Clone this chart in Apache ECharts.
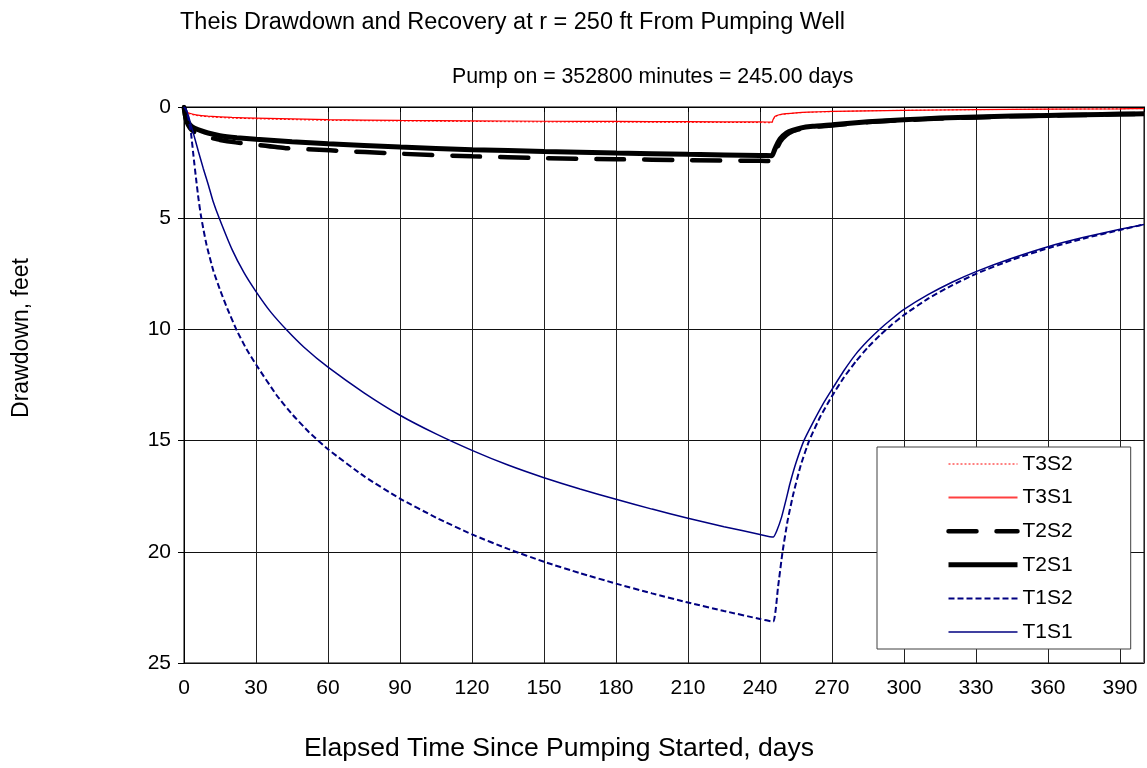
<!DOCTYPE html>
<html>
<head>
    <meta charset="utf-8">
    <title>Theis Drawdown and Recovery</title>
    <script src="https://cdn.jsdelivr.net/npm/echarts@6/dist/echarts.min.js"></script>
    <style>
        html, body { margin: 0; padding: 0; background: #ffffff; }
        #chart { width: 1147px; height: 768px; }
    </style>
</head>
<body>
<div id="chart"></div>
<script>
    // days since pumping started / drawdown in feet
    var t3s2Days = [0, 0.5, 1, 2, 5, 10, 20, 30, 60, 90, 120, 150, 180, 210, 240, 245, 245.5, 246.3, 248, 251, 255, 260, 270, 285, 300, 330, 360, 390, 400];
    var t3s2Ft = [0, 0.14, 0.23, 0.3, 0.38, 0.44, 0.5, 0.53, 0.6, 0.63, 0.65, 0.67, 0.68, 0.69, 0.7, 0.71, 0.57, 0.44, 0.36, 0.31, 0.27, 0.24, 0.21, 0.17, 0.15, 0.12, 0.1, 0.08, 0.07];

    var t3s1Days = [0, 0.5, 1, 2, 5, 10, 20, 30, 60, 90, 120, 150, 180, 210, 240, 245, 245.5, 246.3, 248, 251, 255, 260, 270, 285, 300, 330, 360, 390, 400];
    var t3s1Ft = [0, 0.12, 0.2, 0.27, 0.35, 0.41, 0.47, 0.5, 0.57, 0.6, 0.62, 0.64, 0.65, 0.66, 0.67, 0.68, 0.55, 0.42, 0.35, 0.3, 0.26, 0.23, 0.2, 0.17, 0.15, 0.12, 0.1, 0.08, 0.07];

    var t2s2Days = [0, 0.5, 1, 2.5, 4, 6.25, 10, 15, 21.5, 30, 42.4, 60.8, 90, 120, 150, 180, 210, 240, 245, 246, 247, 248.5, 251, 253.5, 256.7, 262, 270, 285, 300, 315, 330, 345, 360, 375, 390, 400];
    var t2s2Ft = [0, 0.4, 0.65, 0.95, 1.1, 1.23, 1.36, 1.48, 1.59, 1.7, 1.85, 1.95, 2.1, 2.22, 2.3, 2.35, 2.39, 2.42, 2.43, 2.15, 1.88, 1.55, 1.26, 1.1, 1.0, 0.9, 0.83, 0.68, 0.59, 0.52, 0.47, 0.42, 0.39, 0.36, 0.33, 0.31];

    var t2s1Days = [0, 0.5, 1, 2.5, 4, 6.7, 10, 15, 22, 30, 45, 60, 90, 120, 150, 180, 210, 240, 245, 246, 247, 248.5, 251, 253.5, 256.7, 262, 270, 285, 300, 315, 330, 345, 360, 375, 390, 400];
    var t2s1Ft = [0, 0.35, 0.55, 0.8, 0.93, 1.05, 1.17, 1.29, 1.38, 1.45, 1.56, 1.65, 1.8, 1.92, 2.0, 2.07, 2.13, 2.18, 2.19, 1.95, 1.7, 1.42, 1.17, 1.05, 0.95, 0.87, 0.8, 0.66, 0.57, 0.5, 0.45, 0.41, 0.38, 0.35, 0.32, 0.3];

    var t1s2Days = [0, 1, 2, 3, 4, 5, 6, 7, 8, 9.4, 12.2, 15, 18, 22, 26, 30, 38.6, 45, 52, 60, 75, 90, 105, 120, 135, 150, 165, 180, 195, 210, 225, 240, 245.5, 247.5, 249.4, 251.5, 253.9, 257, 260.5, 265, 270, 275, 280, 285, 290, 295, 300, 310, 320, 330, 345, 360, 375, 390, 400];
    var t1s2Ft = [0, 0.15, 0.6, 1.25, 2.25, 3.2, 4.1, 4.85, 5.45, 6.2, 7.35, 8.22, 9.05, 10.05, 10.88, 11.58, 12.96, 13.81, 14.61, 15.39, 16.6, 17.61, 18.46, 19.22, 19.87, 20.45, 20.96, 21.43, 21.87, 22.28, 22.66, 23.02, 23.14, 21.6, 20.0, 18.6, 17.39, 16.1, 15.0, 13.95, 13.0, 12.15, 11.43, 10.8, 10.26, 9.78, 9.35, 8.62, 8.02, 7.5, 6.87, 6.35, 5.91, 5.53, 5.28];

    var t1s1Days = [0, 1, 2, 3, 4, 6, 8, 10, 12, 14.7, 20, 25, 30, 36, 43, 50, 60, 75, 90, 105, 120, 135, 150, 165, 180, 195, 210, 225, 240, 245.5, 247, 249, 251, 252.5, 255, 258.3, 262, 266, 270, 275, 280, 285, 290, 295, 300, 310, 320, 330, 345, 360, 375, 390, 400];
    var t1s1Ft = [0, 0.15, 0.45, 0.85, 1.22, 2.0, 2.75, 3.45, 4.2, 5.0, 6.4, 7.45, 8.3, 9.2, 10.05, 10.8, 11.7, 12.85, 13.86, 14.7, 15.44, 16.1, 16.67, 17.18, 17.64, 18.08, 18.49, 18.87, 19.22, 19.34, 19.05, 18.44, 17.6, 16.93, 16.0, 15.0, 14.2, 13.4, 12.7, 11.85, 11.1, 10.5, 9.98, 9.52, 9.1, 8.44, 7.88, 7.4, 6.8, 6.28, 5.86, 5.5, 5.28];

    var legendNames = ['T3S2', 'T3S1', 'T2S2', 'T2S1', 'T1S2', 'T1S1'];

    var fontFam = '"Liberation Sans", Arial, sans-serif';

    function pairs(days, ft) {
        return days.map(function (d, i) { return [d, ft[i]]; });
    }

    var chart = echarts.init(document.getElementById('chart'));

    var option = {
        backgroundColor: '#ffffff',
        animation: false,
        title: [
            {
                text: 'Theis Drawdown and Recovery at r = 250 ft From Pumping Well',
                left: 175, top: 6,
                textStyle: {fontFamily: fontFam, fontSize: 23.5, fontWeight: 'normal', color: '#000'}
            },
            {
                text: 'Pump on = 352800 minutes = 245.00 days',
                left: 447, top: 62,
                textStyle: {fontFamily: fontFam, fontSize: 21.3, fontWeight: 'normal', color: '#000'}
            }
        ],
        grid: {
            left: 184, top: 107, right: 3, bottom: 105,
            show: true, borderColor: '#808080', borderWidth: 2,
            outerBoundsMode: 'none'
        },
        legend: {
            orient: 'vertical',
            left: 877, top: 447,
            padding: [6, 58, 6, 69],
            itemWidth: 69, itemHeight: 14, itemGap: 11.6,
            itemStyle: {opacity: 0},
            lineStyle: {width: 'inherit'},
            backgroundColor: '#ffffff',
            borderColor: '#404040', borderWidth: 1,
            textStyle: {fontFamily: fontFam, fontSize: 21, color: '#000', lineHeight: 22},
            data: legendNames.map(function (n) {
                // the thin red line reads better a little wider in the key
                return n === 'T3S1' ? {name: n, lineStyle: {width: 2, color: '#ff4040'}} : n;
            })
        },
        xAxis: {
            type: 'value',
            min: 0, max: 400, interval: 30,
            axisLine: {show: true, lineStyle: {color: '#000', width: 1}},
            axisTick: {show: true, length: 5, lineStyle: {color: '#000'}},
            axisLabel: {
                margin: 15, color: '#000', fontFamily: fontFam, fontSize: 21,
                formatter: function (v) { return v > 390 ? '' : String(v); }
            },
            splitLine: {show: true, lineStyle: {color: '#222', width: 1}}
        },
        yAxis: {
            type: 'value',
            inverse: true,
            min: 0, max: 25, interval: 5,
            axisLine: {show: true, lineStyle: {color: '#000', width: 1}},
            axisTick: {show: true, length: 6, lineStyle: {color: '#000'}},
            axisLabel: {margin: 13, color: '#000', fontFamily: fontFam, fontSize: 21},
            splitLine: {show: true, lineStyle: {color: '#111', width: 1}}
        },
        graphic: [
            {
                type: 'text', x: 22, y: 338, rotation: Math.PI / 2,
                style: {
                    text: 'Drawdown, feet', align: 'center', verticalAlign: 'middle',
                    font: '23px ' + fontFam, fill: '#000'
                }
            },
            {
                type: 'text', x: 559, y: 749,
                style: {
                    text: 'Elapsed Time Since Pumping Started, days', align: 'center', verticalAlign: 'middle',
                    font: '26.5px ' + fontFam, fill: '#000'
                }
            }
        ],
        series: [
            {
                name: 'T3S2', type: 'line', symbol: 'none', smooth: 0.15,
                lineStyle: {color: '#ff0000', width: 1, type: [2, 2]},
                itemStyle: {color: '#ff0000'},
                data: pairs(t3s2Days, t3s2Ft)
            },
            {
                name: 'T3S1', type: 'line', symbol: 'none', smooth: 0.15,
                lineStyle: {color: '#ff0000', width: 1.2},
                itemStyle: {color: '#ff0000'},
                data: pairs(t3s1Days, t3s1Ft)
            },
            {
                name: 'T2S2', type: 'line', symbol: 'none', smooth: 0.15,
                lineStyle: {color: '#000000', width: 4.5, type: [28, 20], cap: 'round'},
                itemStyle: {color: '#000000'},
                data: pairs(t2s2Days, t2s2Ft)
            },
            {
                name: 'T2S1', type: 'line', symbol: 'none', smooth: 0.15,
                lineStyle: {color: '#000000', width: 5},
                itemStyle: {color: '#000000'},
                data: pairs(t2s1Days, t2s1Ft)
            },
            {
                name: 'T1S2', type: 'line', symbol: 'none', smooth: 0.15,
                lineStyle: {color: '#000080', width: 2, type: [6, 3]},
                itemStyle: {color: '#000080'},
                data: pairs(t1s2Days, t1s2Ft)
            },
            {
                name: 'T1S1', type: 'line', symbol: 'none', smooth: 0.15,
                lineStyle: {color: '#000080', width: 1.5},
                itemStyle: {color: '#000080'},
                data: pairs(t1s1Days, t1s1Ft)
            }
        ]
    };

    chart.setOption(option);

    window.onresize = function () {
        chart.resize();
    };
</script>
</body>
</html>
